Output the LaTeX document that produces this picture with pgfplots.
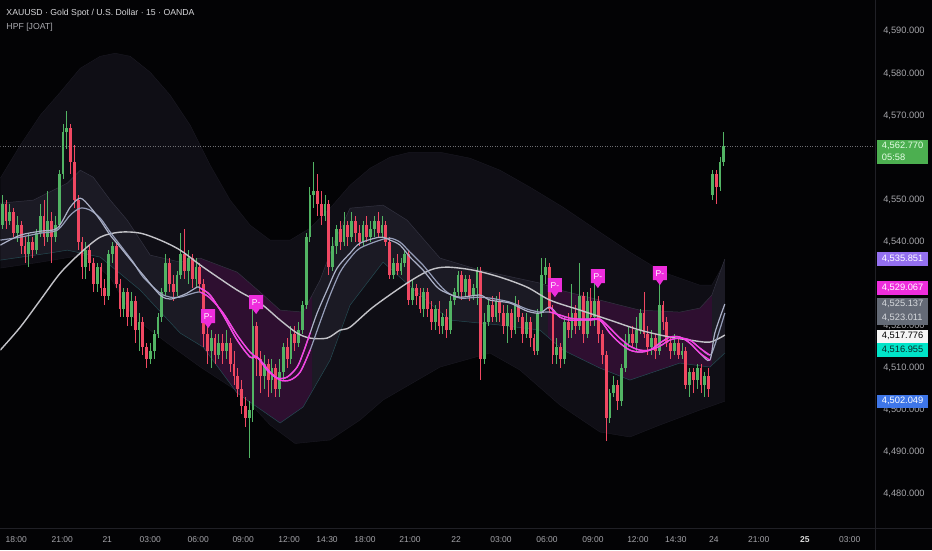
\documentclass[border=0pt]{standalone}
\usepackage{fontspec}
\setmainfont{Liberation Sans}
\usepackage{pgfplots}
\usepackage{pgfplotstable}
\pgfplotsset{compat=1.18}
\usepgfplotslibrary{fillbetween}
\usetikzlibrary{shapes.callouts}

\definecolor{bg}{RGB}{3,3,5}
\pagecolor{bg}
\definecolor{cgreen}{RGB}{82,180,100}
\definecolor{cred}{RGB}{240,72,98}
\definecolor{outerband}{RGB}{15,14,21}
\definecolor{innerband}{RGB}{27,26,36}
\definecolor{magband}{RGB}{46,15,48}
\definecolor{fastc}{RGB}{150,158,185}
\definecolor{slowc}{RGB}{195,195,200}
\definecolor{magc}{RGB}{250,60,230}
\definecolor{ticktxt}{RGB}{165,165,170}
\definecolor{sep}{RGB}{32,32,38}
\definecolor{bGreen}{RGB}{76,175,80}
\definecolor{bPurple}{RGB}{148,112,240}
\definecolor{bMag}{RGB}{238,45,220}
\definecolor{bGrey}{RGB}{100,106,118}
\definecolor{bWhite}{RGB}{245,245,245}
\definecolor{bCyan}{RGB}{0,228,200}
\definecolor{bBlue}{RGB}{62,118,232}
\definecolor{outeredge}{RGB}{26,25,34}
\definecolor{upedge}{RGB}{50,50,64}
\definecolor{loedge}{RGB}{36,74,82}
\definecolor{pline}{RGB}{110,110,115}

\pgfplotstableread{
i o h l c
0 4544 4551 4543 4549
1 4549 4550 4543 4545
2 4545 4549 4544 4547
3 4547 4548 4541 4542
4 4542 4546 4540 4544
5 4544 4545 4537 4539
6 4539 4541 4535 4537
7 4537 4542 4534 4540
8 4540 4541 4536 4538
9 4538 4543 4537 4542
10 4542 4549 4541 4546
11 4546 4550 4539 4541
12 4541 4552 4540 4545
13 4545 4547 4535 4541
14 4541 4546 4540 4544
15 4544 4557 4543 4556
16 4556 4568 4555 4566
17 4566 4571 4562 4567
18 4567 4568 4556 4559
19 4559 4563 4548 4550
20 4550 4551 4538 4540
21 4540 4541 4531 4534
22 4534 4540 4531 4538
23 4538 4539 4533 4535
24 4535 4536 4528 4530
25 4530 4535 4528 4534
26 4534 4535 4527 4529
27 4529 4531 4525 4527
28 4527 4538 4526 4537
29 4537 4540 4535 4539
30 4539 4540 4529 4530
31 4530 4531 4522 4524
32 4524 4529 4522 4528
33 4528 4529 4520 4522
34 4522 4528 4520 4526
35 4526 4527 4516 4519
36 4519 4523 4514 4521
37 4521 4522 4513 4515
38 4515 4516 4510 4512
39 4512 4516 4511 4514
40 4514 4519 4512 4518
41 4518 4523 4517 4522
42 4522 4529 4521 4528
43 4528 4537 4527 4535
44 4535 4536 4528 4530
45 4530 4532 4526 4528
46 4528 4533 4527 4532
47 4532 4542 4531 4537
48 4537 4543 4531 4533
49 4533 4538 4530 4536
50 4536 4537 4529 4531
51 4531 4536 4529 4534
52 4534 4535 4528 4530
53 4530 4531 4515 4518
54 4518 4520 4511 4514
55 4514 4519 4510 4517
56 4517 4518 4511 4513
57 4513 4518 4512 4516
58 4516 4518 4511 4514
59 4514 4519 4512 4516
60 4516 4517 4509 4511
61 4511 4514 4506 4508
62 4508 4510 4503 4505
63 4505 4507 4499 4501
64 4501 4503 4496 4498
65 4498 4502 4488.5 4500
66 4500 4524 4497 4520
67 4520 4521 4508 4512
68 4512 4514 4504 4508
69 4508 4513 4505 4511
70 4511 4512 4503 4507
71 4507 4512 4504 4510
72 4510 4511 4503 4505
73 4505 4512 4503 4509
74 4509 4516 4507 4515
75 4515 4517 4510 4512
76 4512 4520 4511 4518
77 4518 4520 4514 4516
78 4516 4521 4515 4519
79 4519 4526 4518 4525
80 4525 4542 4524 4541
81 4541 4553 4540 4551
82 4551 4559 4548 4552
83 4552 4556 4546 4549
84 4549 4552 4544 4546
85 4546 4551 4545 4549
86 4549 4550 4532 4534
87 4534 4541 4533 4539
88 4539 4544 4537 4543
89 4543 4545 4538 4540
90 4540 4547 4539 4544
91 4544 4545 4539 4541
92 4541 4547 4540 4545
93 4545 4546 4540 4542
94 4542 4544 4539 4540
95 4540 4545 4539 4544
96 4544 4546 4540 4541
97 4541 4545 4540 4543
98 4543 4546 4541 4545
99 4545 4547 4541 4542
100 4542 4546 4541 4544
101 4544 4545 4539 4540
102 4540 4541 4531 4532
103 4532 4536 4531 4535
104 4535 4537 4532 4533
105 4533 4536 4532 4535
106 4535 4538 4534 4537
107 4537 4538 4525 4526
108 4526 4531 4525 4529
109 4529 4530 4525 4527
110 4527 4529 4523 4524
111 4524 4529 4522 4528
112 4528 4529 4522 4524
113 4524 4526 4519 4521
114 4521 4525 4519 4524
115 4524 4526 4518 4520
116 4520 4523 4518 4522
117 4522 4524 4517 4519
118 4519 4527 4518 4526
119 4526 4529 4525 4528
120 4528 4533 4527 4532
121 4532 4533 4526 4528
122 4528 4532 4527 4531
123 4531 4532 4526 4527
124 4527 4530 4526 4529
125 4529 4534 4525 4533
126 4533 4534 4507 4512
127 4512 4523 4511 4521
128 4521 4526 4520 4525
129 4525 4527 4521 4522
130 4522 4527 4521 4526
131 4526 4528 4521 4523
132 4523 4525 4518 4520
133 4520 4525 4516 4523
134 4523 4524 4517 4519
135 4519 4527 4518 4525
136 4525 4526 4521 4522
137 4522 4523 4516 4518
138 4518 4523 4517 4521
139 4521 4522 4515 4517
140 4517 4518 4513 4514
141 4514 4524 4513 4523
142 4523 4536 4522 4532
143 4532 4536 4530 4534
144 4534 4535 4523 4524
145 4524 4525 4511 4513
146 4513 4517 4511 4515
147 4515 4516 4510 4512
148 4512 4522 4511 4521
149 4521 4523 4517 4519
150 4519 4530 4517 4523
151 4523 4525 4518 4520
152 4520 4535 4519 4527
153 4527 4528 4516 4518
154 4518 4528 4517 4526
155 4526 4529 4520 4522
156 4522 4532 4520 4526
157 4526 4527 4516 4518
158 4518 4519 4511 4513
159 4513 4514 4492.5 4498
160 4498 4505 4497 4504
161 4504 4508 4503 4506
162 4506 4507 4500 4502
163 4502 4511 4501 4510
164 4510 4518 4509 4516
165 4516 4520 4515 4518
166 4518 4520 4515 4516
167 4516 4522 4514 4519
168 4519 4524 4518 4523
169 4523 4528 4517 4518
170 4518 4520 4513 4515
171 4515 4519 4513 4517
172 4517 4518 4512 4514
173 4514 4530 4513 4525
174 4525 4526 4519 4521
175 4521 4522 4515 4516
176 4516 4517 4512 4514
177 4514 4518 4513 4516
178 4516 4517 4512 4513
179 4513 4516 4512 4514
180 4514 4515 4505 4506
181 4506 4510 4503 4509
182 4509 4510 4504 4507
183 4507 4511 4505 4510
184 4510 4511 4504 4506
185 4506 4509 4503 4508
186 4508 4510 4503 4505
187 4551 4557 4550 4556
188 4556 4557 4549 4553
189 4553 4560 4552 4559
190 4559 4566 4558 4562.77
}\candles

\pgfplotstableread{
x y
0 4539.16
20 4541.53
40 4542.48
57 4543.20
70 4548.19
80 4550.33
90 4548.19
100 4545.10
110 4541.53
120 4538.68
133 4534.88
143 4532.03
160 4527.28
170 4526.33
180 4527.04
187 4527.75
197 4529.18
200 4528.94
210 4527.28
223 4522.53
237 4516.59
250 4512.55
257 4512.55
267 4509.46
277 4507.56
287 4507.79
297 4510.17
303 4513.50
310 4518.25
317 4523.00
327 4528.47
337 4533.69
350 4537.26
360 4539.63
380 4541.06
390 4540.35
400 4539.16
410 4536.31
423 4533.22
437 4529.18
447 4527.75
460 4526.80
480 4527.28
490 4526.09
510 4525.38
527 4523.48
540 4523.00
550 4524.43
560 4522.05
570 4521.34
580 4521.34
590 4521.34
600 4521.34
610 4518.25
620 4515.87
630 4514.21
640 4513.73
650 4514.21
660 4515.87
670 4517.30
680 4517.30
690 4515.87
700 4513.50
710 4511.83
715 4518.25
725 4525.14
}\fastA

\pgfplotstableread{
x y
0 4540.35
20 4541.06
40 4542.01
57 4542.72
70 4546.29
80 4547.95
90 4547.47
100 4545.57
110 4542.25
120 4539.16
133 4535.12
143 4531.55
160 4527.75
170 4526.80
180 4526.80
190 4527.52
200 4527.99
210 4526.57
223 4523.00
237 4517.77
250 4513.73
260 4511.83
270 4508.98
280 4507.08
290 4507.08
300 4508.98
310 4514.21
320 4520.86
330 4527.28
340 4532.74
350 4536.07
360 4538.45
380 4540.35
390 4540.82
400 4539.87
410 4537.49
423 4534.41
437 4530.37
447 4527.99
460 4526.57
480 4526.80
490 4526.57
510 4525.61
527 4523.95
540 4523.24
550 4523.24
560 4522.53
570 4521.81
580 4521.58
590 4521.58
600 4521.58
610 4519.44
620 4517.06
630 4515.16
640 4514.21
650 4514.21
660 4515.16
670 4516.59
680 4517.06
690 4516.59
700 4514.69
710 4513.02
715 4515.40
725 4523.01
}\fastB

\pgfplotstableread{
x y
0 4514.21
20 4519.67
40 4526.09
60 4532.51
80 4537.26
100 4541.06
120 4542.25
140 4542.01
160 4540.35
180 4537.97
203 4533.93
237 4528.47
260 4525.38
280 4521.34
297 4518.25
310 4517.06
327 4517.06
340 4518.96
350 4519.67
373 4524.43
407 4530.13
430 4533.22
447 4533.93
473 4533.22
500 4531.55
527 4529.18
550 4526.09
580 4523.71
610 4521.34
640 4518.96
670 4517.30
690 4516.59
710 4516.11
725 4517.78
}\slow

\pgfplotstableread{
x y
0 4555.08
20 4562.92
40 4570.05
60 4575.51
80 4581.21
100 4584.06
115 4584.78
130 4584.06
150 4580.26
170 4574.80
190 4567.67
210 4558.17
230 4549.85
250 4543.91
270 4540.35
290 4540.35
310 4543.20
330 4547.95
350 4553.41
370 4557.45
390 4560.07
410 4561.25
440 4561.25
470 4559.83
500 4556.98
530 4552.94
563 4548.19
597 4542.72
630 4537.49
663 4532.74
700 4529.65
712 4529.65
725 4535.12
}\upOuter

\pgfplotstableread{
x y
0 4533.70
40 4535.10
83 4536.80
110 4531.50
133 4522.00
167 4515.90
200 4510.20
240 4504.00
270 4496.40
295 4492.00
330 4492.83
360 4497.58
383 4502.33
440 4510.17
490 4513.50
520 4509.46
560 4501.14
600 4494.73
630 4493.54
660 4496.39
700 4499.95
725 4502.05
}\loOuter

\pgfplotstableread{
x y
0 4549.14
33 4549.85
67 4553.89
80 4556.98
93 4555.31
110 4549.85
127 4545.10
150 4536.78
180 4535.12
200 4536.07
237 4532.74
260 4527.99
280 4523.71
303 4523.24
320 4530.84
335 4540.35
350 4547.95
383 4548.66
407 4545.10
440 4536.07
480 4533.22
540 4530.13
560 4528.47
600 4526.09
640 4523.71
680 4523.24
700 4524.19
712 4527.28
725 4535.85
}\upInner

\pgfplotstableread{
x y
0 4535.60
50 4537.30
67 4537.97
100 4536.31
140 4528.47
180 4518.25
203 4514.92
237 4503.99
280 4496.87
303 4500.67
330 4511.83
350 4524.90
383 4535.12
420 4527.28
450 4521.34
500 4520.15
540 4518.96
563 4514.21
600 4509.93
630 4507.08
680 4511.12
710 4510.17
725 4513.50
}\loInner

\pgfplotstableread{
x y
208 4522.29
256 4525.62
555 4529.65
598 4531.79
660 4532.51
}\plabels

\begin{document}
\begin{tikzpicture}
\path (0pt,0pt) rectangle (932pt,550pt);
\begin{axis}[
  at={(0pt,22pt)}, anchor=south west,
  scale only axis, width=876pt, height=528pt,
  xmin=0, xmax=876, ymin=4471.92, ymax=4597.37,
  axis line style={draw=none},
  major tick length=0pt,
  ytick={4480,4490,4500,4510,4520,4540,4550,4570,4580,4590},
  yticklabels={{4,480.000},{4,490.000},{4,500.000},{4,510.000},{4,520.000},{4,540.000},{4,550.000},{4,570.000},{4,580.000},{4,590.000}},
  yticklabel pos=right,
  yticklabel style={anchor=west, xshift=4pt, font=\fontsize{9.3}{10}\selectfont, text=ticktxt},
  xtick={16,62,107,150,198,243,289,327,365,410,456,501,547,593,638,676,714,759,805,850},
  xticklabels={18:00,21:00,21,03:00,06:00,09:00,12:00,14:30,18:00,21:00,22,03:00,06:00,09:00,12:00,14:30,24,21:00,{\textcolor{white!85!black}{\textbf{25}}},03:00},
  xticklabel style={font=\fontsize{8.5}{9}\selectfont, text=ticktxt, yshift=-5pt},
  candle/.style={draw=none, fill=none, mark=none, forget plot, mark options={draw=none, fill=none}},
]
% bands
\addplot[draw=none, name path=U1, forget plot] table {\upOuter};
\addplot[draw=none, name path=L1, forget plot] table {\loOuter};
\addplot[draw=none, name path=U2, forget plot] table {\upInner};
\addplot[draw=none, name path=L2, forget plot] table {\loInner};
\addplot[fill=outerband, draw=none, forget plot] fill between[of=U1 and L1];
\addplot[fill=innerband, draw=none, forget plot] fill between[of=U2 and L2];
\addplot[fill=magband, draw=none, forget plot] fill between[of=U2 and L2, soft clip={(axis cs:200,4480) rectangle (axis cs:312,4590)}];
\addplot[fill=magband, draw=none, forget plot] fill between[of=U2 and L2, soft clip={(axis cs:548,4480) rectangle (axis cs:712,4590)}];
\addplot[color=outeredge, line width=0.4pt, forget plot] table {\upOuter};
\addplot[color=outeredge, line width=0.4pt, forget plot] table {\loOuter};
\addplot[color=upedge, line width=0.5pt, forget plot] table {\upInner};
\addplot[color=loedge, line width=0.5pt, forget plot] table {\loInner};
% price line
\addplot[color=pline, dotted, line width=0.5pt, forget plot] coordinates {(0,4562.77) (876,4562.77)};
% candles: wicks
\addplot[candle, restrict expr to domain={\thisrow{c}-\thisrow{o}}{0:1000},
  error bars/.cd, y dir=both, y explicit, error mark=none, error bar style={draw=cgreen, line width=0.9pt}]
  table[x expr={2+3.8*\thisrow{i}}, y expr={(\thisrow{h}+\thisrow{l})/2}, y error expr={(\thisrow{h}-\thisrow{l})/2}] {\candles};
\addplot[candle, restrict expr to domain={\thisrow{o}-\thisrow{c}}{0.001:1000},
  error bars/.cd, y dir=both, y explicit, error mark=none, error bar style={draw=cred, line width=0.9pt}]
  table[x expr={2+3.8*\thisrow{i}}, y expr={(\thisrow{h}+\thisrow{l})/2}, y error expr={(\thisrow{h}-\thisrow{l})/2}] {\candles};
% candles: bodies
\addplot[candle, restrict expr to domain={\thisrow{c}-\thisrow{o}}{0:1000},
  error bars/.cd, y dir=both, y explicit, error mark=none, error bar style={draw=cgreen, line width=2.8pt}]
  table[x expr={2+3.8*\thisrow{i}}, y expr={(\thisrow{o}+\thisrow{c})/2}, y error expr={max(abs(\thisrow{c}-\thisrow{o})/2,0.15)}] {\candles};
\addplot[candle, restrict expr to domain={\thisrow{o}-\thisrow{c}}{0.001:1000},
  error bars/.cd, y dir=both, y explicit, error mark=none, error bar style={draw=cred, line width=2.8pt}]
  table[x expr={2+3.8*\thisrow{i}}, y expr={(\thisrow{o}+\thisrow{c})/2}, y error expr={max(abs(\thisrow{c}-\thisrow{o})/2,0.15)}] {\candles};
% lines
\addplot[color=slowc, line width=1.4pt, smooth, tension=0.5, forget plot] table {\slow};
\addplot[color=fastc, line width=1.2pt, smooth, tension=0.5, forget plot] table {\fastB};
\addplot[color=fastc!80!white, line width=1.2pt, smooth, tension=0.5, forget plot] table {\fastA};
\addplot[color=magc, line width=1.3pt, smooth, tension=0.5, forget plot, restrict x to domain=200:310] table {\fastB};
\addplot[color=magc, line width=1.3pt, smooth, tension=0.5, forget plot, restrict x to domain=200:310] table {\fastA};
\addplot[color=magc, line width=1.3pt, smooth, tension=0.5, forget plot, restrict x to domain=550:710] table {\fastB};
\addplot[color=magc, line width=1.3pt, smooth, tension=0.5, forget plot, restrict x to domain=550:710] table {\fastA};
% P- labels
\addplot[only marks, mark=none, forget plot, nodes near coords={P-},
  every node near coord/.style={anchor=center, shape=rectangle callout, callout relative pointer={(0pt,-5pt)}, fill=bMag, text=white, font=\fontsize{8.5}{9}\selectfont, inner sep=1.5pt, minimum width=14pt, minimum height=14pt}]
  table {\plabels};
% anchors for right-hand labels
\coordinate (pG) at (axis cs:876,4562.77);
\coordinate (pP) at (axis cs:876,4535.851);
\coordinate (pM) at (axis cs:876,4529.067);
\coordinate (pR) at (axis cs:876,4525.137);
\coordinate (pW) at (axis cs:876,4517.776);
\coordinate (pB) at (axis cs:876,4502.049);
\end{axis}
% separators
\draw[sep, line width=0.6pt] (876pt,0pt) -- (876pt,550pt);
\draw[sep, line width=0.6pt] (0pt,22pt) -- (932pt,22pt);
% title
\node[anchor=west, inner sep=0pt, text={rgb,255:red,215;green,215;blue,218}, font=\fontsize{8.7}{9}\selectfont] at (6pt,537pt) {XAUUSD · Gold Spot / U.S. Dollar · 15 · OANDA};
\node[anchor=west, inner sep=0pt, text={rgb,255:red,170;green,170;blue,175}, font=\fontsize{8.7}{9}\selectfont] at (6pt,523.3pt) {HPF [JOAT]};
% right labels
\tikzset{lbl/.style={anchor=west, inner sep=0pt, font=\fontsize{9.3}{10}\selectfont}}
\fill[bGreen] ([xshift=1pt,yshift=6pt]pG) rectangle ([xshift=52pt,yshift=-18pt]pG);
\node[lbl, text={rgb,255:red,230;green,255;blue,230}] at ([xshift=6pt]pG) {4,562.770};
\node[lbl, text={rgb,255:red,230;green,255;blue,230}] at ([xshift=6pt,yshift=-11pt]pG) {05:58};
\fill[bPurple] ([xshift=1pt,yshift=7pt]pP) rectangle ([xshift=52pt,yshift=-7pt]pP);
\node[lbl, text=white] at ([xshift=6pt]pP) {4,535.851};
\fill[bMag] ([xshift=1pt,yshift=6.5pt]pM) rectangle ([xshift=52pt,yshift=-7pt]pM);
\node[lbl, text=white] at ([xshift=6pt]pM) {4,529.067};
\fill[bGrey] ([xshift=1pt,yshift=6.5pt]pR) rectangle ([xshift=52pt,yshift=-21pt]pR);
\node[lbl, text={rgb,255:red,215;green,218;blue,222}] at ([xshift=6pt]pR) {4,525.137};
\node[lbl, text={rgb,255:red,215;green,218;blue,222}] at ([xshift=6pt,yshift=-14pt]pR) {4,523.011};
\fill[bWhite] ([xshift=1pt,yshift=5.5pt]pW) rectangle ([xshift=52pt,yshift=-8pt]pW);
\node[lbl, text=black] at ([xshift=6pt,yshift=-1pt]pW) {4,517.776};
\fill[bCyan] ([xshift=1pt,yshift=-8pt]pW) rectangle ([xshift=52pt,yshift=-21.5pt]pW);
\node[lbl, text={rgb,255:red,10;green,40;blue,40}] at ([xshift=6pt,yshift=-14.5pt]pW) {4,516.955};
\fill[bBlue] ([xshift=1pt,yshift=6.5pt]pB) rectangle ([xshift=52pt,yshift=-7pt]pB);
\node[lbl, text=white] at ([xshift=6pt]pB) {4,502.049};
\end{tikzpicture}
\end{document}
